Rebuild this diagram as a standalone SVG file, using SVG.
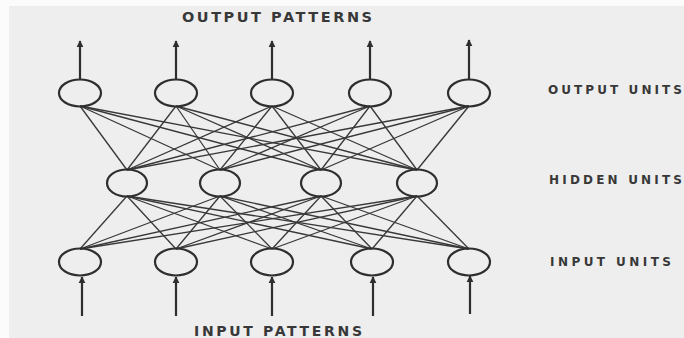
<svg xmlns="http://www.w3.org/2000/svg" width="684" height="338" viewBox="0 0 684 338">
  <defs>
    <marker id="head" viewBox="0 0 10 10" refX="9" refY="5" markerWidth="3.2" markerHeight="4" orient="auto" markerUnits="strokeWidth">
      <path d="M0,0 L10,5 L0,10 z" fill="#2e2e2e"/>
    </marker>
    <style>
      .unit { fill: none; stroke: #2e2e2e; stroke-width: 2.2; }
      .link { stroke: #383838; stroke-width: 1.3; fill: none; }
      .io { stroke: #2e2e2e; stroke-width: 2.2; fill: none; marker-end: url(#head); }
      .lbl { font-family: "DejaVu Sans", "Liberation Sans", sans-serif; font-weight: bold; fill: #383838; }
    </style>
  </defs>

  <!-- paper -->
  <rect x="0" y="0" width="684" height="338" fill="#fbfbfb"/>
  <rect x="9" y="6" width="675" height="332" fill="#eeeeee"/>

  <!-- weighted connections: output <-> hidden <-> input -->
  <g id="connectors">
    <!-- output layer (bottom points) to hidden layer (top points) -->
    <g class="link">
      <line x1="80" y1="106" x2="127" y2="170"/><line x1="80" y1="106" x2="220" y2="170"/><line x1="80" y1="106" x2="321" y2="170"/><line x1="80" y1="106" x2="417" y2="170"/>
      <line x1="176" y1="106" x2="127" y2="170"/><line x1="176" y1="106" x2="220" y2="170"/><line x1="176" y1="106" x2="321" y2="170"/><line x1="176" y1="106" x2="417" y2="170"/>
      <line x1="272" y1="106" x2="127" y2="170"/><line x1="272" y1="106" x2="220" y2="170"/><line x1="272" y1="106" x2="321" y2="170"/><line x1="272" y1="106" x2="417" y2="170"/>
      <line x1="370" y1="106" x2="127" y2="170"/><line x1="370" y1="106" x2="220" y2="170"/><line x1="370" y1="106" x2="321" y2="170"/><line x1="370" y1="106" x2="417" y2="170"/>
      <line x1="469" y1="106" x2="127" y2="170"/><line x1="469" y1="106" x2="220" y2="170"/><line x1="469" y1="106" x2="321" y2="170"/><line x1="469" y1="106" x2="417" y2="170"/>
    </g>
    <!-- hidden layer (bottom points) to input layer (top points) -->
    <g class="link">
      <line x1="127" y1="196" x2="80" y2="249"/><line x1="127" y1="196" x2="176" y2="249"/><line x1="127" y1="196" x2="272" y2="249"/><line x1="127" y1="196" x2="372" y2="249"/><line x1="127" y1="196" x2="469" y2="249"/>
      <line x1="220" y1="196" x2="80" y2="249"/><line x1="220" y1="196" x2="176" y2="249"/><line x1="220" y1="196" x2="272" y2="249"/><line x1="220" y1="196" x2="372" y2="249"/><line x1="220" y1="196" x2="469" y2="249"/>
      <line x1="321" y1="196" x2="80" y2="249"/><line x1="321" y1="196" x2="176" y2="249"/><line x1="321" y1="196" x2="272" y2="249"/><line x1="321" y1="196" x2="372" y2="249"/><line x1="321" y1="196" x2="469" y2="249"/>
      <line x1="417" y1="196" x2="80" y2="249"/><line x1="417" y1="196" x2="176" y2="249"/><line x1="417" y1="196" x2="272" y2="249"/><line x1="417" y1="196" x2="372" y2="249"/><line x1="417" y1="196" x2="469" y2="249"/>
    </g>
    <!-- output pattern arrows -->
    <line class="io" x1="80" y1="80" x2="80" y2="41"/>
    <line class="io" x1="176" y1="80" x2="176" y2="41"/>
    <line class="io" x1="272" y1="80" x2="272" y2="41"/>
    <line class="io" x1="370" y1="80" x2="370" y2="41"/>
    <line class="io" x1="469" y1="80" x2="469" y2="40"/>
    <!-- input pattern arrows -->
    <line class="io" x1="82" y1="316" x2="82" y2="277"/>
    <line class="io" x1="176" y1="316" x2="176" y2="277"/>
    <line class="io" x1="272" y1="316" x2="272" y2="277"/>
    <line class="io" x1="373" y1="316" x2="373" y2="277"/>
    <line class="io" x1="470" y1="314" x2="470" y2="276"/>
  </g>

  <!-- output units -->
  <g id="out1"><ellipse class="unit" cx="80" cy="93" rx="21" ry="13.5"/></g>
  <g id="out2"><ellipse class="unit" cx="176" cy="93" rx="21" ry="13.5"/></g>
  <g id="out3"><ellipse class="unit" cx="272" cy="93" rx="21" ry="13.5"/></g>
  <g id="out4"><ellipse class="unit" cx="370" cy="93" rx="21" ry="13.5"/></g>
  <g id="out5"><ellipse class="unit" cx="469" cy="93" rx="21" ry="13.5"/></g>

  <!-- hidden units -->
  <g id="hid1"><ellipse class="unit" cx="127" cy="183" rx="20" ry="13.5"/></g>
  <g id="hid2"><ellipse class="unit" cx="220" cy="183" rx="20" ry="13.5"/></g>
  <g id="hid3"><ellipse class="unit" cx="321" cy="183" rx="20" ry="13.5"/></g>
  <g id="hid4"><ellipse class="unit" cx="417" cy="183" rx="20" ry="13.5"/></g>

  <!-- input units -->
  <g id="in1"><ellipse class="unit" cx="80" cy="262" rx="21" ry="13.5"/></g>
  <g id="in2"><ellipse class="unit" cx="176" cy="262" rx="21" ry="13.5"/></g>
  <g id="in3"><ellipse class="unit" cx="272" cy="262" rx="21" ry="13.5"/></g>
  <g id="in4"><ellipse class="unit" cx="372" cy="262" rx="21" ry="13.5"/></g>
  <g id="in5"><ellipse class="unit" cx="469" cy="262" rx="21" ry="13.5"/></g>

  <!-- labels -->
  <g id="labels">
    <text class="lbl" x="182" y="22" font-size="14.5" textLength="190" lengthAdjust="spacing">OUTPUT PATTERNS</text>
    <text class="lbl" x="194" y="336" font-size="14" textLength="168" lengthAdjust="spacing">INPUT PATTERNS</text>
    <text class="lbl" x="548" y="94" font-size="12" textLength="134" lengthAdjust="spacing">OUTPUT UNITS</text>
    <text class="lbl" x="549" y="184" font-size="12" textLength="133" lengthAdjust="spacing">HIDDEN UNITS</text>
    <text class="lbl" x="550" y="266" font-size="12" textLength="121" lengthAdjust="spacing">INPUT UNITS</text>
  </g>
</svg>
